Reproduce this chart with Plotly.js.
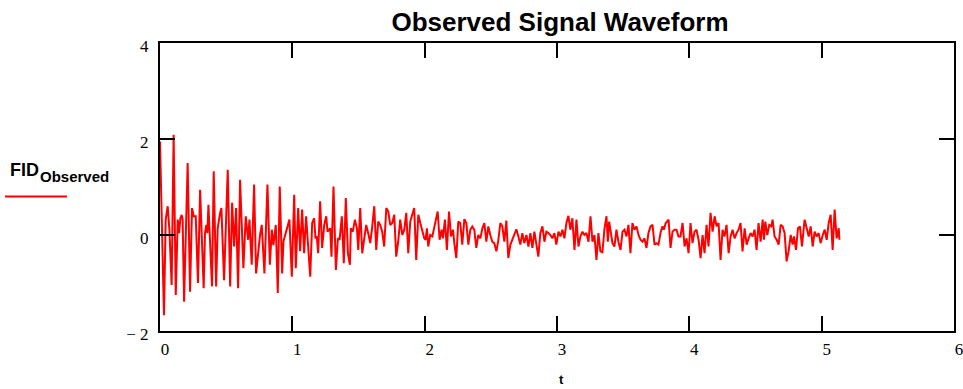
<!DOCTYPE html>
<html>
<head>
<meta charset="utf-8">
<script src="https://cdn.plot.ly/plotly-3.0.1.min.js"></script>
<style>html,body{margin:0;padding:0;background:#fff;}#chart{width:963px;height:389px;}</style>
</head>
<body>
<div id="chart"></div>
<script>
const t1 = [0,0.030,0.043,0.058,0.071,0.088,0.103,0.119,0.134,0.144,
  0.154,0.164,0.171,0.182,0.209,0.227,0.242,0.255,0.270,0.287,
  0.303,0.330,0.340,0.350,0.358,0.366,0.393,0.406,0.424,0.436,
  0.454,0.464,0.484,0.512,0.530,0.545,0.560,0.575,0.590,0.605,
  0.630,0.648,0.666,0.676,0.693,0.711,0.726,0.744,0.756,0.769,
  0.789,0.812,0.830,0.845,0.857,0.875,0.890,0.905,0.923,0.933,
  0.958,0.978,0.996,1.014,1.026,1.044,1.059,1.074,1.089,1.104];
const f1 = [1.95,-1.67,0.32,0.60,0.11,-1.04,2.09,-1.25,0.32,0.04,
  0.35,0.42,0.32,-1.39,1.50,-1.18,0.56,0.39,0.39,-1.00,
  0.94,-1.11,0.04,0.21,0.04,0.63,-1.07,1.33,-1.07,0.14,
  0.46,0.56,-0.94,1.36,-1.07,0.67,-0.24,0.56,-1.11,1.15,
  -0.69,0.39,-0.10,0.32,-0.62,1.05,-0.80,-0.24,0.00,0.21,
  -0.80,1.05,-0.62,0.11,-0.21,0.21,-1.21,1.01,-0.80,-0.13,
  0.11,0.32,-0.87,0.84,-0.69,0.56,-0.34,0.53,-0.38,0.39];

const t2 = [1.135,1.150,1.165,1.175,1.185,1.195,1.210,1.225,1.241,1.256,
  1.266,1.276,1.286,1.296,1.311,1.329,1.344,1.357,1.374,1.389,
  1.404,1.420,1.435,1.442,1.457,1.473,1.488,1.498,1.513,1.528,
  1.543,1.558,1.573,1.589,1.604,1.619,1.634,1.649,1.664,1.679,
  1.694,1.710,1.725,1.740,1.755,1.770,1.785,1.800,1.815,1.831,
  1.846,1.861,1.876,1.891,1.906,1.921,1.936,1.952,1.967,1.982,
  1.997,2.007,2.017,2.027,2.042,2.058,2.073,2.088,2.098,2.113,
  2.128,2.138,2.153,2.168,2.184,2.199,2.214,2.224,2.239,2.254,
  2.269];
const f2 = [-0.87,0.25,0.35,-0.07,-0.03,-0.38,0.70,-0.27,0.21,0.39,
  0.07,0.11,0.14,-0.45,1.01,-0.73,-0.07,-0.10,0.39,-0.59,
  0.77,-0.38,-0.62,0.14,0.07,0.32,0.14,-0.31,0.56,-0.38,
  -0.03,0.21,0.04,-0.17,0.18,0.60,-0.31,0.28,0.21,0.07,
  -0.24,0.56,0.49,0.21,0.25,0.42,-0.45,-0.14,0.32,0.00,
  0.11,0.46,-0.38,0.28,0.42,0.56,-0.52,0.42,0.25,0.07,
  -0.07,-0.10,0.14,-0.24,0.00,-0.03,0.18,0.32,0.49,-0.10,
  0.11,-0.07,0.32,-0.31,0.49,-0.03,0.11,-0.17,-0.48,0.28,
  0.25];

const t3 = [2.284,2.300,2.315,2.330,2.345,2.360,2.375,2.390,2.405,2.421,
  2.436,2.451,2.466,2.481,2.496,2.511,2.526,2.542,2.557,2.572,
  2.587,2.602,2.617,2.632,2.648,2.663,2.678,2.693,2.708,2.723,
  2.738,2.753,2.769,2.784,2.799,2.814,2.829,2.844,2.859,2.874,
  2.890,2.905,2.920,2.935,2.950,2.965,2.980,2.995,3.011,3.026,
  3.041,3.056,3.071,3.086,3.101,3.116,3.132,3.147,3.162,3.177,
  3.192,3.207,3.222,3.238,3.253,3.268,3.283,3.298,3.313,3.328,
  3.343,3.359,3.374,3.384,3.394];
const f3 = [-0.20,0.33,0.25,-0.20,0.11,0.18,0.11,-0.27,0.00,-0.07,
  0.14,0.25,-0.14,0.18,0.00,-0.14,-0.17,-0.34,-0.10,0.25,
  0.18,-0.14,0.30,-0.48,-0.20,-0.10,0.00,0.12,-0.03,-0.20,
  0.04,-0.17,0.00,-0.24,0.04,-0.27,0.07,-0.20,-0.45,0.04,
  0.18,-0.14,0.07,0.04,0.00,-0.07,0.04,-0.20,0.07,-0.03,
  0.11,-0.07,0.25,0.40,0.11,0.35,-0.31,0.32,-0.24,-0.03,
  0.07,0.00,0.04,-0.14,0.39,-0.14,0.00,-0.52,0.04,-0.34,
  -0.36,0.14,0.39,-0.14,0.28];

const t4 = [3.419,3.434,3.449,3.464,3.480,3.495,3.510,3.525,3.540,3.555,
  3.570,3.585,3.601,3.616,3.631,3.646,3.661,3.676,3.691,3.707,
  3.722,3.737,3.752,3.767,3.782,3.797,3.807,3.822,3.843,3.858,
  3.873,3.888,3.903,3.918,3.933,3.949,3.964,3.979,3.994,4.009,
  4.024,4.039,4.054,4.070,4.085,4.100,4.115,4.130,4.145,4.160,
  4.176,4.191,4.206,4.221,4.236,4.251,4.266,4.281,4.297,4.312,
  4.327,4.342,4.357,4.372,4.387];
const f4 = [-0.17,-0.24,0.11,-0.14,-0.31,0.07,0.11,-0.03,0.21,-0.38,
  0.25,0.11,0.18,0.00,-0.10,-0.14,-0.07,-0.27,0.04,0.18,
  0.21,-0.20,-0.17,-0.20,0.04,0.18,0.11,0.25,0.32,-0.27,
  0.07,0.11,0.11,-0.03,-0.03,0.25,-0.24,-0.07,-0.38,0.25,
  -0.17,0.07,0.11,-0.10,-0.48,0.00,-0.38,0.21,-0.24,0.46,
  0.07,0.39,0.18,0.25,-0.52,0.11,-0.03,0.21,-0.38,-0.03,
  0.11,-0.07,0.04,0.11,0.25];

const t5 = [4.402,4.418,4.433,4.448,4.463,4.478,4.493,4.508,4.523,4.539,
  4.554,4.564,4.574,4.589,4.604,4.619,4.629,4.644,4.660,4.675,
  4.690,4.705,4.720,4.735,4.750,4.766,4.781,4.791,4.806,4.821,
  4.836,4.851,4.871,4.887,4.902,4.917,4.932,4.947,4.962,4.977,
  4.992,5.008,5.023,5.038,5.053,5.068,5.083,5.098,5.113,5.129,
  5.134];
const f5 = [-0.34,0.14,-0.20,-0.07,0.04,-0.03,0.11,-0.31,0.25,-0.14,
  0.32,-0.10,0.28,0.00,0.21,0.18,0.32,-0.03,-0.10,-0.20,
  0.21,0.18,0.04,-0.55,-0.34,0.00,-0.20,-0.03,-0.31,0.14,
  0.18,-0.24,0.32,0.14,-0.03,0.18,-0.24,0.07,-0.03,0.04,
  -0.17,0.00,0.11,-0.10,0.25,0.42,-0.31,0.53,-0.07,0.14,
  -0.10];

const xTickVals = [0,1,2,3,4,5,6];
const xTickText = ['0','1','2','3','4','5','6'];
const yTickVals = [-2,0,2,4];
const yTickText = ['\u2212 2','0','2','4'];

const chartTitle = 'Observed Signal Waveform';
const xTitle = 't';
const seriesName = 'FID';
const seriesSub = 'Observed';

const tAll = [].concat(t1,t2,t3,t4,t5);
const fAll = [].concat(f1,f2,f3,f4,f5);
const n = Math.min(tAll.length, fAll.length);

const W = 963, H = 389;
const L = 160, R = 9, T = 43, B = 58;
const pw = W - L - R, ph = H - T - B;
const px = x => (x - L) / pw;          // pixel -> paper x
const py = y => (H - B - y) / ph;      // pixel -> paper y

const trace = {
  x: tAll.slice(0,n), y: fAll.slice(0,n),
  type: 'scatter', mode: 'lines',
  line: {color: '#ff0000', width: 2},
  hoverinfo: 'skip'
};

const serif = 'Times New Roman';
const sans = '"Liberation Sans", Arial, sans-serif';

function axisBase() {
  return {
    ticks: 'inside', ticklen: 15, tickwidth: 2, tickcolor: '#000',
    showline: true, linewidth: 2, linecolor: '#000', mirror: 'ticks',
    showgrid: false, zeroline: false, ticklabeloverflow: 'allow',
    tickfont: {family: serif, size: 17, color: '#000', weight: 'normal'}
  };
}

const layout = {
  width: W, height: H,
  margin: {l: L, r: R, t: T, b: B, pad: 0},
  paper_bgcolor: '#fff', plot_bgcolor: '#fff',
  showlegend: false,
  font: {family: sans, color: '#000'},
  title: {
    text: '<b>' + chartTitle + '</b>',
    font: {family: sans, size: 26, color: '#000'},
    xref: 'container', yref: 'container',
    x: 560 / W, xanchor: 'center', y: 1 - 22 / H, yanchor: 'middle'
  },
  xaxis: Object.assign(axisBase(), {
    range: [0, 6], tickmode: 'array', tickvals: xTickVals, ticktext: xTickText,
    ticklabelshift: 5, ticklabelstandoff: 2
  }),
  yaxis: Object.assign(axisBase(), {
    range: [-2, 4], tickmode: 'array', tickvals: yTickVals, ticktext: yTickText,
    ticklabelshift: 3, ticklabelstandoff: 6
  }),
  annotations: [
    {text: '<b>' + seriesName + '</b>', xref: 'paper', yref: 'paper',
     x: px(8), y: py(170), xanchor: 'left', yanchor: 'middle', showarrow: false,
     font: {family: sans, size: 18, color: '#000'}},
    {text: '<b>' + seriesSub + '</b>', xref: 'paper', yref: 'paper',
     x: px(38), y: py(176), xanchor: 'left', yanchor: 'middle', showarrow: false,
     font: {family: sans, size: 15, color: '#000'}},
    {text: '<b>' + xTitle + '</b>', xref: 'paper', yref: 'paper',
     x: px(561), y: py(379), xanchor: 'center', yanchor: 'middle', showarrow: false,
     font: {family: sans, size: 13, color: '#000'}}
  ],
  shapes: [
    {type: 'line', xref: 'paper', yref: 'paper',
     x0: px(5), x1: px(67), y0: py(196.5), y1: py(196.5),
     line: {color: '#ff0000', width: 2}}
  ]
};

Plotly.newPlot('chart', [trace], layout, {displayModeBar: false, staticPlot: true});
</script>
</body>
</html>
